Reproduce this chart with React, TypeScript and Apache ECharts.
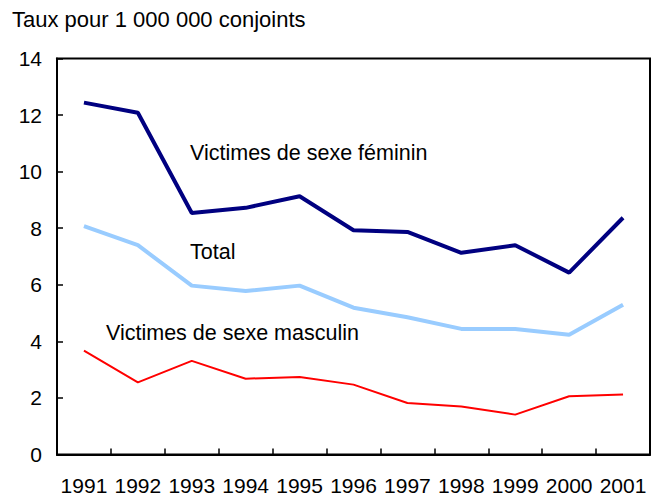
import React, { useEffect, useRef } from "react";
import * as echarts from "echarts";

const years = ["1991", "1992", "1993", "1994", "1995", "1996", "1997", "1998", "1999", "2000", "2001"];
const femaleVictims = [12.44, 12.08, 8.54, 8.72, 9.13, 7.93, 7.87, 7.13, 7.4, 6.43, 8.37];
const totalVictims = [8.07, 7.4, 5.97, 5.78, 5.97, 5.19, 4.85, 4.44, 4.44, 4.23, 5.29];
const maleVictims = [3.67, 2.55, 3.31, 2.68, 2.74, 2.47, 1.82, 1.7, 1.41, 2.06, 2.12];
const yTicks = { min: 0, max: 14, interval: 2 };

const FONT = "Liberation Sans, Arial, sans-serif";

export default function App() {
  const ref = useRef<HTMLDivElement>(null);
  useEffect(() => {
    if (!ref.current) return;
    const chart = echarts.init(ref.current, undefined, { renderer: "svg" });
    chart.setOption({
      animation: false,
      backgroundColor: "#fff",
      textStyle: { fontFamily: FONT },
      grid: {
        left: 57,
        right: 3,
        top: 58.5,
        bottom: 43.5,
        show: true,
        borderColor: "#000",
        borderWidth: 2,
        backgroundColor: "transparent",
      },
      xAxis: {
        type: "category",
        data: years,
        boundaryGap: true,
        axisLine: { show: true, lineStyle: { color: "#000", width: 2 } },
        axisTick: { show: true, inside: true, length: 6, interval: 0, lineStyle: { color: "#000", width: 1.5 } },
        axisLabel: { interval: 0, color: "#000", fontSize: 21, margin: 20, fontFamily: FONT },
        splitLine: { show: false },
      },
      yAxis: {
        type: "value",
        min: yTicks.min,
        max: yTicks.max,
        interval: yTicks.interval,
        axisLine: { show: true, lineStyle: { color: "#000", width: 2 } },
        axisTick: { show: true, inside: true, length: 6, lineStyle: { color: "#000", width: 1.5 } },
        axisLabel: { color: "#000", fontSize: 21, margin: 15, fontFamily: FONT },
        splitLine: { show: false },
      },
      series: [
        {
          name: "Victimes de sexe féminin",
          type: "line",
          data: femaleVictims,
          symbol: "none",
          lineStyle: { color: "#000080", width: 4 },
          itemStyle: { color: "#000080" },
        },
        {
          name: "Total",
          type: "line",
          data: totalVictims,
          symbol: "none",
          lineStyle: { color: "#99CCFF", width: 4 },
          itemStyle: { color: "#99CCFF" },
        },
        {
          name: "Victimes de sexe masculin",
          type: "line",
          data: maleVictims,
          symbol: "none",
          lineStyle: { color: "#FF0000", width: 2 },
          itemStyle: { color: "#FF0000" },
        },
      ],
      graphic: [
        {
          type: "text",
          x: 12,
          y: 19.5,
          style: { text: "Taux pour 1 000 000 conjoints", fill: "#000", fontSize: 22, fontFamily: FONT, verticalAlign: "middle" },
        },
        {
          type: "text",
          x: 190,
          y: 152.5,
          style: { text: "Victimes de sexe féminin", fill: "#000", fontSize: 21.5, fontFamily: FONT, verticalAlign: "middle" },
        },
        {
          type: "text",
          x: 190,
          y: 251.5,
          style: { text: "Total", fill: "#000", fontSize: 21.5, fontFamily: FONT, verticalAlign: "middle" },
        },
        {
          type: "text",
          x: 106,
          y: 332.5,
          style: { text: "Victimes de sexe masculin", fill: "#000", fontSize: 21.5, fontFamily: FONT, verticalAlign: "middle" },
        },
      ],
    });
    return () => chart.dispose();
  }, []);
  return <div ref={ref} style={{ width: 653, height: 498, position: "absolute", left: 0, top: 0 }} />;
}
